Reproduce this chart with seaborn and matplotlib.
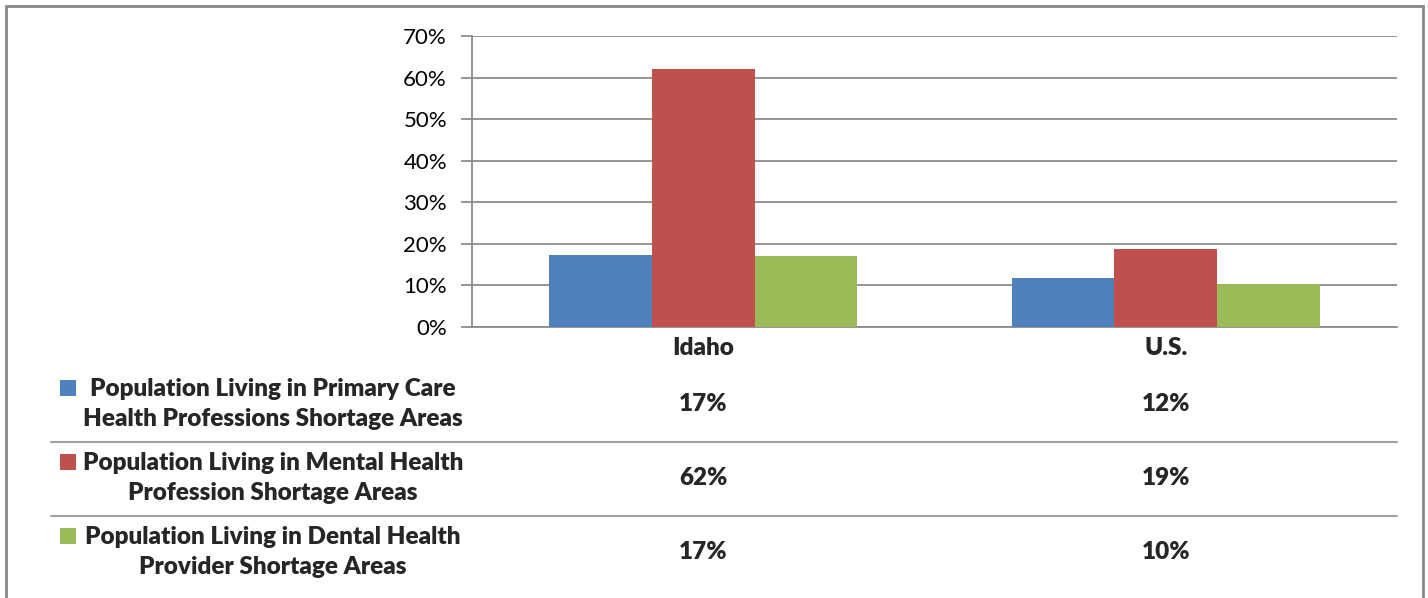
import matplotlib
matplotlib.use("Agg")
import matplotlib.pyplot as plt
import seaborn as sns
import pandas as pd
from matplotlib.patches import Rectangle
from matplotlib.lines import Line2D

# ---- data ----
regions = ["Idaho", "U.S."]
series = [
    "Population Living in Primary Care\nHealth Professions Shortage Areas",
    "Population Living in Mental Health\nProfession Shortage Areas",
    "Population Living in Dental Health\nProvider Shortage Areas",
]
primary_care = [17.3, 11.8]
mental_health = [62.0, 18.7]
dental_health = [17.1, 10.3]
table_labels = [["17%", "12%"], ["62%", "19%"], ["17%", "10%"]]
y_ticks = [0, 10, 20, 30, 40, 50, 60, 70]
colors = ["#4F81BD", "#C0504D", "#9BBB59"]

values = [primary_care, mental_health, dental_health]
rows = []
for s, vals in zip(series, values):
    for r, v in zip(regions, vals):
        rows.append({"region": r, "series": s, "value": v})
df = pd.DataFrame(rows)

sns.set_style("white")
plt.rcParams["font.family"] = ["Lato", "DejaVu Sans"]

W, H = 1428, 598
fig = plt.figure(figsize=(W / 100, H / 100), dpi=100)

def fx(px):
    return px / W

def fy(py):
    return 1 - py / H

# outer chart frame
fig.add_artist(Rectangle((fx(6), fy(620)), fx(1423) - fx(6), fy(6) - fy(620),
                         transform=fig.transFigure, fill=False,
                         edgecolor="#878787", linewidth=2))

ax = fig.add_axes([fx(472), fy(327), fx(1397) - fx(472), fy(36) - fy(327)])
sns.barplot(data=df, x="region", y="value", hue="series", order=regions,
            hue_order=series, palette=colors, width=0.665, saturation=1,
            linewidth=0, legend=False, ax=ax, zorder=3)

ax.set_ylim(0, 70)
ax.set_xlim(-0.5, 1.5)
ax.set_yticks(y_ticks)
ax.set_yticklabels([f"{t}%" for t in y_ticks], fontsize=16, color="#000000")
ax.yaxis.grid(True, color="#8c8c8c", linewidth=1.3, zorder=0)
ax.set_axisbelow(True)
ax.tick_params(axis="y", length=8, width=1.3, color="#8c8c8c", left=True, pad=10)
ax.tick_params(axis="x", length=0, pad=7)
ax.set_xticks([0, 1])
ax.set_xticklabels(regions, fontsize=17.5, fontweight="heavy")
ax.set_xlabel("")
ax.set_ylabel("")
for side in ["top", "right"]:
    ax.spines[side].set_visible(False)
ax.spines["left"].set_color("#8c8c8c")
ax.spines["left"].set_linewidth(1.3)
ax.spines["bottom"].set_color("#8c8c8c")
ax.spines["bottom"].set_linewidth(1.3)

# data table below the chart
row_centers = [404, 478, 552]
col_x = [ax.transData.transform((i, 0))[0] for i in range(len(regions))]
for i, (name, labels) in enumerate(zip(series, table_labels)):
    yc = row_centers[i]
    fig.add_artist(Rectangle((fx(60), fy(yc - 16) - (8 / H)), 16 / W, 16 / H,
                             transform=fig.transFigure, facecolor=colors[i],
                             edgecolor="none"))
    fig.text(fx(273), fy(yc), name, ha="center", va="center", fontsize=17.5,
             fontweight="heavy", linespacing=1.45)
    for j, lab in enumerate(labels):
        fig.text(col_x[j] / W, fy(yc), lab, ha="center", va="center",
                 fontsize=17.5, fontweight="heavy")
for yl in [442, 516]:
    fig.add_artist(Line2D([fx(51), fx(1397)], [fy(yl), fy(yl)],
                          transform=fig.transFigure, color="#a0a0a0",
                          linewidth=1.5))

fig.savefig("out.png", dpi=100)
